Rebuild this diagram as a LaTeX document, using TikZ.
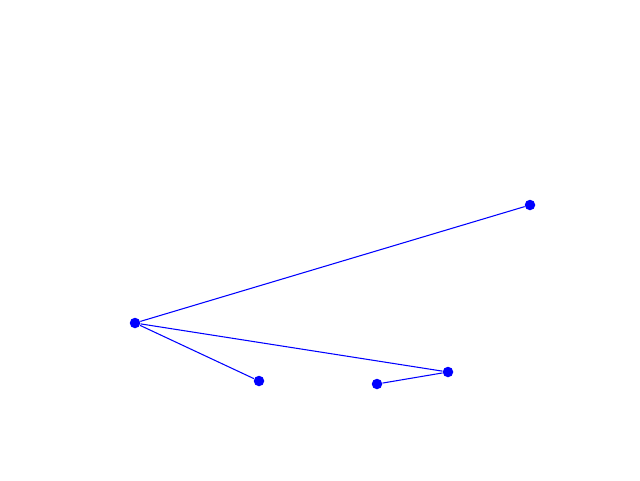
\documentclass[tikz,border=0pt]{standalone}
\usepackage{tikz}

\tikzset{dot/.style={circle, fill=blue, inner sep=0pt, minimum size=0.21cm}}

\begin{document}
\begin{tikzpicture}
  \useasboundingbox (0,0) rectangle (12.8,9.6);
  \node[dot] (a) at (2.7,3.14) {};
  \node[dot] (b) at (10.6,5.5) {};
  \node[dot] (c) at (5.18,1.98) {};
  \node[dot] (d) at (8.96,2.16) {};
  \node[dot] (e) at (7.54,1.92) {};
  \draw[blue, line width=0.6pt] (a) -- (b);
  \draw[blue, line width=0.6pt] (a) -- (c);
  \draw[blue, line width=0.6pt] (a) -- (d);
  \draw[blue, line width=0.6pt] (d) -- (e);
\end{tikzpicture}
\end{document}
